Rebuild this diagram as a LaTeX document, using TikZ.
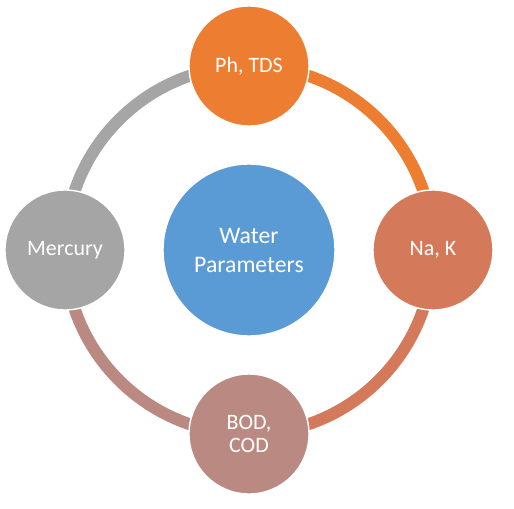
\documentclass[tikz,border=0pt]{standalone}
\usepackage{fontspec}
\setmainfont{Carlito}
\usepackage{xcolor}
\usetikzlibrary{positioning,backgrounds}
\definecolor{phorange}{HTML}{ED7D31}
\definecolor{nakred}{HTML}{D47A5A}
\definecolor{bodbrown}{HTML}{BA8A82}
\definecolor{hggray}{HTML}{A5A5A5}
\definecolor{waterblue}{HTML}{5B9BD5}

\begin{document}
\begin{tikzpicture}[
    param/.style={circle, draw=white, line width=0.8pt, fill=#1, minimum size=2.4cm, inner sep=0pt, text=white, align=center, font=\fontsize{12.5}{13.5}\selectfont},
    hub/.style={circle, draw=white, line width=0.8pt, fill=#1, minimum size=3.44cm, inner sep=0pt, text=white, align=center, font=\fontsize{13.5}{16.5}\selectfont},
    link/.style={line width=0.24cm, draw=#1},
]
\useasboundingbox (-4.98,-5.16) rectangle (5.30,5.0);

\node[hub=waterblue] (water) at (0, 0) {Water\\Parameters};

\node[param=phorange] (ph) at (0, 3.68) {Ph, TDS};
\node[param=nakred] (nak) at (3.68, 0) {Na, K};
\node[param=bodbrown] (bod) at (0, -3.68) {BOD,\\COD};
\node[param=hggray] (hg) at (-3.68, 0) {Mercury};

\begin{scope}[on background layer]
\draw[link=phorange] (ph.center) arc[start angle=90, end angle=0, radius=3.68];
\draw[link=nakred] (nak.center) arc[start angle=0, end angle=-90, radius=3.68];
\draw[link=bodbrown] (bod.center) arc[start angle=-90, end angle=-180, radius=3.68];
\draw[link=hggray] (hg.center) arc[start angle=180, end angle=90, radius=3.68];
\end{scope}

\end{tikzpicture}
\end{document}
